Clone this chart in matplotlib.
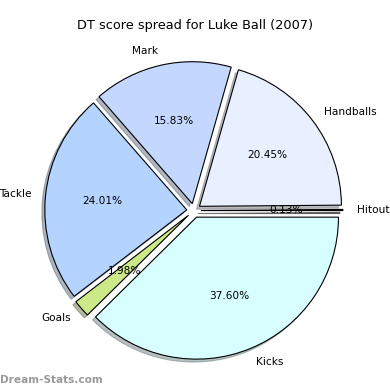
import matplotlib
matplotlib.use('Agg')
import matplotlib.pyplot as plt

labels = ['Hitout', 'Handballs', 'Mark', 'Tackle', 'Goals', 'Kicks']
values = [0.13, 20.45, 15.83, 24.01, 1.98, 37.60]
colors = ['#000000', '#e8f0ff', '#c4d8ff', '#b4d4ff', '#cce888', '#d8ffff']
explode = [0.05] * len(values)

fig = plt.figure(figsize=(3.9, 3.9), dpi=100)
ax = fig.add_axes([0.042, 0.005, 0.91, 0.91])

wedges, texts, autotexts = ax.pie(values, labels=labels, colors=colors, explode=explode,
                                  autopct='%1.2f%%', startangle=0,
                                  shadow={'ox': -0.015, 'oy': -0.015, 'shade': 0.5},
                                  wedgeprops={'edgecolor': 'black', 'linewidth': 0.8},
                                  textprops={'fontsize': 7.6})
ax.set_xlim(-1.25, 1.25)
ax.set_ylim(-1.25, 1.25)
ax.set_aspect('equal')

fig.text(0.5, 1 - 25 / 390, 'DT score spread for Luke Ball (2007)', ha='center', va='center', fontsize=9.3)
fig.text(0.0, 1 - 380 / 390, 'Dream-Stats.com', ha='left', va='center', fontsize=7.6,
         color='#999999', fontweight='semibold')

fig.savefig('out.png', dpi=100)
